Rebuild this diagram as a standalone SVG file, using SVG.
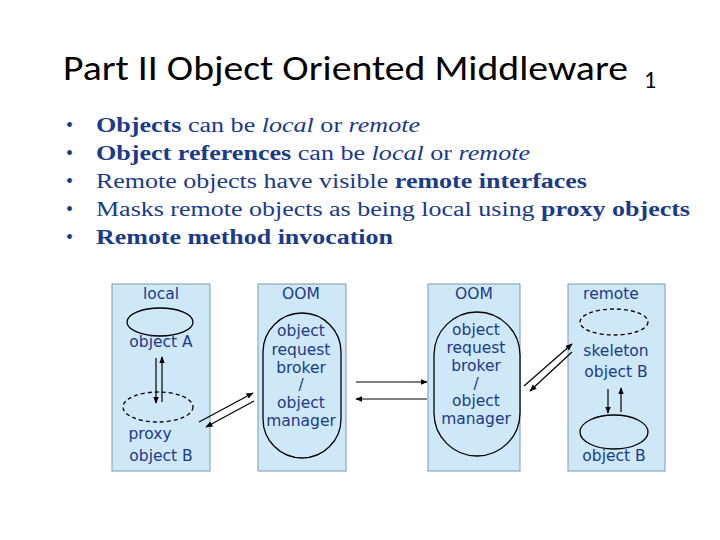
<svg xmlns="http://www.w3.org/2000/svg" width="720" height="540" viewBox="0 0 720 540">
<defs>
<marker id="ah" viewBox="0 0 10 10" refX="9" refY="5" markerWidth="6" markerHeight="6" orient="auto"><path d="M0,1 L10,5 L0,9 z" fill="#000"/></marker>
</defs>
<style>
.col{fill:#cfe8f8;stroke:#7a9ab0;stroke-width:1}
.t{font-family:Verdana,"DejaVu Sans",sans-serif;font-size:15.5px;fill:#1a3a8a;text-anchor:middle}
.b{font-family:"Liberation Serif",serif;font-size:20px;fill:#1a3a8a}
.ln{stroke:#000;stroke-width:1.2;fill:none;marker-end:url(#ah)}
.e{fill:#cfe8f8;stroke:#000;stroke-width:1.3}
.d{stroke-dasharray:4 3}
</style>
<rect width="720" height="540" fill="#fff"/>
<text x="63" y="80" font-family="Carlito,'Liberation Sans',sans-serif" font-size="34" fill="#000"><tspan textLength="565" lengthAdjust="spacingAndGlyphs">Part II Object Oriented Middleware</tspan><tspan x="644" font-size="24" dy="8">1</tspan></text>
<g class="b">
<text x="66" y="132">•</text><text x="96" y="132" textLength="324" lengthAdjust="spacingAndGlyphs"><tspan font-weight="bold">Objects</tspan> can be <tspan font-style="italic">local</tspan> or <tspan font-style="italic">remote</tspan></text>
<text x="66" y="160">•</text><text x="96" y="160" textLength="434" lengthAdjust="spacingAndGlyphs"><tspan font-weight="bold">Object references</tspan> can be <tspan font-style="italic">local</tspan> or <tspan font-style="italic">remote</tspan></text>
<text x="66" y="188">•</text><text x="96" y="188" textLength="491" lengthAdjust="spacingAndGlyphs">Remote objects have visible <tspan font-weight="bold">remote interfaces</tspan></text>
<text x="66" y="216">•</text><text x="96" y="216" textLength="594" lengthAdjust="spacingAndGlyphs">Masks remote objects as being local using <tspan font-weight="bold">proxy objects</tspan></text>
<text x="66" y="244">•</text><text x="96" y="244" font-weight="bold" textLength="297" lengthAdjust="spacingAndGlyphs">Remote method invocation</text>
</g>
<g id="local">
<rect class="col" x="112" y="284" width="98" height="187"/>
<text class="t" x="161" y="299">local</text>
<ellipse class="e" cx="160" cy="322" rx="33" ry="14"/>
<text class="t" x="161" y="347">object A</text>
<ellipse class="e d" cx="158" cy="407" rx="35" ry="15"/>
<text class="t" x="150" y="439">proxy</text>
<text class="t" x="161" y="461">object B</text>
</g>
<g id="oom1">
<rect class="col" x="258" y="284" width="88" height="187"/>
<text class="t" x="301" y="299">OOM</text>
<rect class="e" x="263" y="313" width="78" height="145" rx="39"/>
<text class="t" x="301" y="336">object</text><text class="t" x="301" y="355">request</text><text class="t" x="301" y="373">broker</text><text class="t" x="301" y="390">/</text><text class="t" x="301" y="408">object</text><text class="t" x="301" y="426">manager</text>
</g>
<g id="oom2">
<rect class="col" x="428" y="284" width="92" height="187"/>
<text class="t" x="474" y="299">OOM</text>
<rect class="e" x="434" y="312" width="86" height="144" rx="43"/>
<text class="t" x="476" y="335">object</text><text class="t" x="476" y="353">request</text><text class="t" x="476" y="371">broker</text><text class="t" x="476" y="389">/</text><text class="t" x="476" y="406">object</text><text class="t" x="476" y="424">manager</text>
</g>
<g id="remote">
<rect class="col" x="568" y="284" width="97" height="187"/>
<text class="t" x="611" y="299">remote</text>
<ellipse class="e d" cx="614" cy="322" rx="34" ry="13"/>
<text class="t" x="616" y="356">skeleton</text>
<text class="t" x="616" y="377">object B</text>
<ellipse class="e" cx="614" cy="432" rx="34" ry="17"/>
<text class="t" x="614" y="461">object B</text>
</g>
<g id="connectors">
<line class="ln" x1="156" y1="358" x2="156" y2="403"/>
<line class="ln" x1="162" y1="402" x2="162" y2="357"/>
<line class="ln" x1="199" y1="422" x2="253" y2="393"/>
<line class="ln" x1="254" y1="401" x2="206" y2="427"/>
<line class="ln" x1="356" y1="382" x2="427" y2="382"/>
<line class="ln" x1="427" y1="399" x2="356" y2="399" stroke-width="2"/>
<line class="ln" x1="524" y1="386" x2="572" y2="344"/>
<line class="ln" x1="572" y1="352" x2="530" y2="391"/>
<line class="ln" x1="608" y1="389" x2="608" y2="413"/>
<line class="ln" x1="621" y1="412" x2="621" y2="388"/>
</g>
</svg>
